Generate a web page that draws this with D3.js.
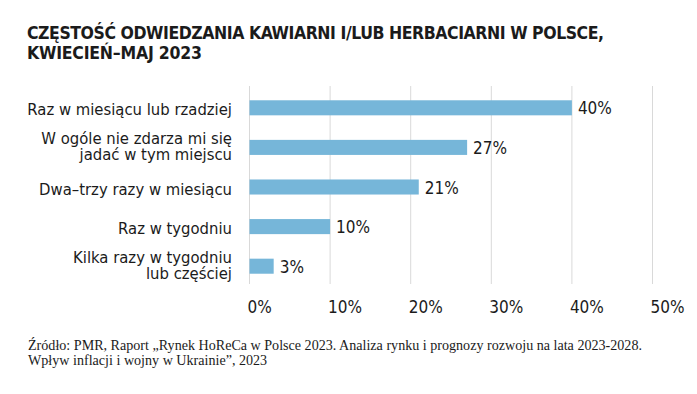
<!DOCTYPE html>
<html>
<head>
<meta charset="utf-8">
<script src="https://cdn.jsdelivr.net/npm/d3@7"></script>
<style>
  body { margin: 0; background: #fff; }
  svg { display: block; }
</style>
</head>
<body>
<svg id="chart" width="697" height="394"></svg>
<script>
// dane
const categories = [
  "Raz w miesiącu lub rzadziej",
  "W ogóle nie zdarza mi się|jadać w tym miejscu",
  "Dwa–trzy razy w miesiącu",
  "Raz w tygodniu",
  "Kilka razy w tygodniu|lub częściej"
];
const values = [40, 27, 21, 10, 3];
const ticks = [0, 10, 20, 30, 40, 50];
const titleLines = [
  "CZĘSTOŚĆ ODWIEDZANIA KAWIARNI I/LUB HERBACIARNI W POLSCE,",
  "KWIECIEŃ–MAJ 2023"
];
const sourceLines = [
  "Źródło: PMR, Raport „Rynek HoReCa w Polsce 2023. Analiza rynku i prognozy rozwoju na lata 2023-2028.",
  "Wpływ inflacji i wojny w Ukrainie”, 2023"
];

const svg = d3.select("#chart");
const condensed = "'DejaVu Sans Condensed', 'Liberation Sans Narrow', sans-serif";
const ink = "#1b1b1b";

// skale
const x = d3.scaleLinear().domain([0, 50]).range([249.5, 652.5]);
const y = d3.scaleBand()
  .domain(categories)
  .range([88, 286])
  .paddingInner(0.62)
  .paddingOuter(0.31);

// tytuł
svg.append("g")
  .selectAll("text")
  .data(titleLines)
  .join("text")
  .attr("x", 27)
  .attr("y", (d, i) => 39 + i * 19.5)
  .attr("font-family", condensed)
  .attr("font-weight", "bold")
  .attr("font-size", 17.5)
  .attr("fill", ink)
  .attr("textLength", (d, i) => (i ? 175 : 577))
  .attr("lengthAdjust", "spacing")
  .text(d => d);

// linie siatki
svg.append("g")
  .selectAll("line")
  .data(ticks)
  .join("line")
  .attr("x1", d => x(d))
  .attr("x2", d => x(d))
  .attr("y1", 86)
  .attr("y2", 284)
  .attr("stroke", "#d9d9d9")
  .attr("stroke-width", 1);

// słupki
svg.append("g")
  .selectAll("rect")
  .data(values)
  .join("rect")
  .attr("x", x(0))
  .attr("y", (d, i) => y(categories[i]))
  .attr("width", d => x(d) - x(0))
  .attr("height", y.bandwidth())
  .attr("fill", "#76b6d9");

// etykiety wartości
svg.append("g")
  .selectAll("text")
  .data(values)
  .join("text")
  .attr("x", d => x(d) + 6)
  .attr("y", (d, i) => y(categories[i]) + y.bandwidth() / 2 + 6.5)
  .attr("font-family", condensed)
  .attr("font-size", 17)
  .attr("fill", ink)
  .text(d => d + "%");

// etykiety kategorii
const labels = svg.append("g")
  .selectAll("text")
  .data(categories)
  .join("text")
  .attr("text-anchor", "end")
  .attr("font-family", condensed)
  .attr("font-size", 16.5)
  .attr("fill", ink)
  .attr("transform", d => `translate(232,${y(d) + y.bandwidth() / 2})`);

labels.each(function (d) {
  const parts = d.split("|");
  const t = d3.select(this);
  parts.forEach((p, j) => {
    const dy = parts.length === 1 ? 7.5 : (j === 0 ? -3.5 : 12.5);
    t.append("tspan").attr("x", 0).attr("y", dy).text(p);
  });
});

// oś X
svg.append("g")
  .selectAll("text")
  .data(ticks)
  .join("text")
  .attr("x", d => x(d) - 2)
  .attr("y", 313)
  .attr("font-family", condensed)
  .attr("font-size", 17)
  .attr("fill", ink)
  .text(d => d + "%");

// źródło
svg.append("g")
  .selectAll("text")
  .data(sourceLines)
  .join("text")
  .attr("x", 28)
  .attr("y", (d, i) => 350 + i * 14.5)
  .attr("font-family", "'Liberation Serif', 'DejaVu Serif', serif")
  .attr("font-size", 14.1)
  .attr("fill", ink)
  .text(d => d);
</script>
</body>
</html>
